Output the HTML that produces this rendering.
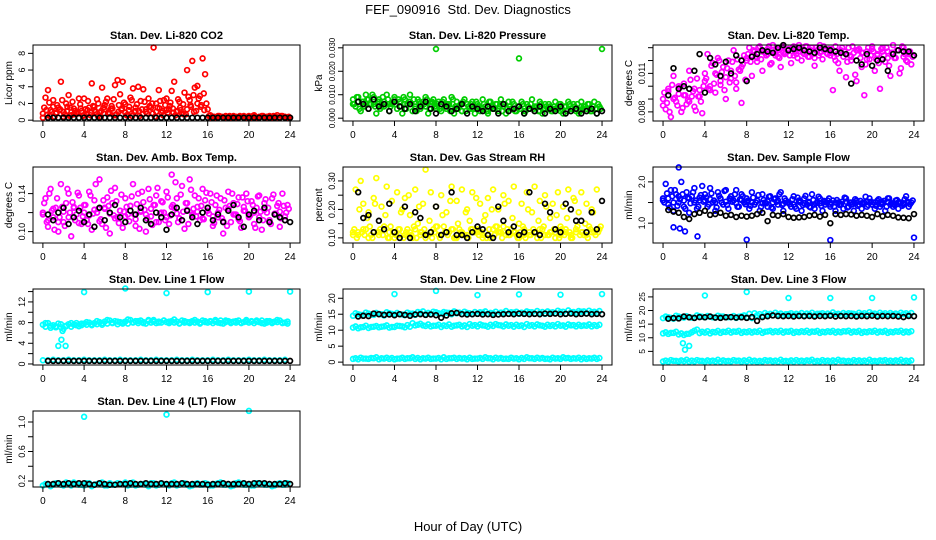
<!DOCTYPE html>
<html><head><meta charset="utf-8">
<style>
html,body{margin:0;padding:0;background:#fff;}
svg{display:block;font-family:"Liberation Sans",sans-serif;}
</style></head>
<body>
<svg id="chart" width="936" height="540" viewBox="0 0 936 540" xmlns="http://www.w3.org/2000/svg">
<text x="468" y="14" text-anchor="middle" font-size="13">FEF_090916&#160; Std. Dev. Diagnostics</text>
<text x="468" y="531" text-anchor="middle" font-size="13">Hour of Day (UTC)</text>
<g id="panels"></g>
</svg>
<script>
const xTicks = [0,4,8,12,16,20,24];

const co2Red = [0.3,2.7,3.6,1.2,2.4,0.8,1.5,4.6,1.0,2.0,3.0,0.6,1.4,0.9,2.6,1.1,
2.6,0.7,1.5,4.4,1.2,2.5,0.9,3.9,1.8,2.6,0.8,1.4,4.2,4.8,3.1,4.6,
1.9,0.6,2.7,3.8,1.1,4.0,2.3,3.7,1.0,2.6,1.5,8.7,2.0,3.6,0.9,2.4,
2.6,1.3,3.5,4.6,1.0,2.2,0.8,3.3,6.0,2.4,7.1,3.9,4.1,2.9,7.4,5.5,
1.3,0.6,0.4,0.3,0.5,0.4,0.3,0.5,0.4,0.3,0.5,0.4,0.3,0.4,0.5,0.3,
0.5,0.4,0.6,0.3,0.4,0.5,0.3,0.4,0.5,0.3,0.4,0.6,0.3,0.5,0.4,0.3];
const co2RedBase = [0.8,1.2,0.5,1.6,0.9,1.3,0.4,1.1,1.5,0.7,1.0,1.4,0.6,1.2,0.9,1.6,0.5,1.1,1.3,0.8,1.7,0.6,1.0,1.4,0.9,1.2,0.5,1.5,1.1,0.7,1.3,1.6,0.8,1.0,1.4,0.6,1.2,1.7,0.9,1.1,1.5,0.7,1.3,1.8,1.0,2.0,1.6,1.2];
const co2RedExtra = [1.5,0.6,2.1,1.0,0.4,1.8,1.2,2.4,0.7,1.6,0.5,2.2,1.1,0.8,1.9,0.5,
1.3,2.3,0.6,1.7,1.0,2.0,0.4,1.5,2.2,0.9,1.4,2.5,0.7,1.8,1.2,2.1,
0.6,1.6,2.4,1.0,1.9,0.5,1.3,2.2,0.8,1.7,2.0,0.4,1.5,2.3,1.1,1.8,
0.9,2.1,1.4,0.6,2.5,1.2,1.9,0.7,2.8,1.6,3.0,1.1,2.6,1.8,3.2,2.0,
0.5,0.3,0.4,0.3,0.5,0.4,0.3,0.4,0.5,0.3,0.4,0.3,0.5,0.4,0.3,0.4,
0.3,0.5,0.4,0.3,0.4,0.5,0.3,0.4,0.3,0.5,0.4,0.3,0.5,0.4,0.3,0.4];
const co2Black = [0.3,0.3,0.3,0.3,0.3,0.3,0.3,0.3,0.3,0.3,0.3,0.3,0.3,0.3,0.3,0.3,0.3,0.3,0.3,0.3,0.3,0.3,0.3,0.3,0.3,0.3,0.3,0.3,0.3,0.3,0.3,0.3,0.3,0.3,0.3,0.3,0.3,0.3,0.3,0.3,0.3,0.3,0.3,0.3,0.3,0.3,0.3,0.3];

const presGreen = [.008,.005,.009,.003,.007,.010,.004,.006,.009,.002,.008,.005,.007,.010,.003,.006,
.009,.004,.007,.002,.008,.006,.010,.003,.005,.008,.004,.007,.009,.002,.006,.008,
.005,.007,.003,.008,.004,.006,.009,.002,.007,.005,.003,.008,.006,.004,.007,.002,
.006,.003,.008,.005,.002,.007,.004,.006,.003,.008,.005,.002,.007,.004,.006,.003,
.005,.007,.002,.006,.004,.008,.003,.005,.007,.002,.006,.004,.005,.003,.007,.004,
.006,.002,.005,.007,.003,.006,.004,.002,.007,.005,.003,.006,.004,.007,.002,.005];
const presGreenBase = [.006,.007,.005,.008,.006,.007,.005,.006,.008,.005,.006,.007,.004,.006,.005,.007,.004,.005,.006,.004,.005,.003,.006,.004,.005,.004,.003,.005,.004,.006,.003,.004,.005,.003,.004,.005,.003,.004,.005,.004,.003,.005,.004,.003,.005,.004,.003,.004];
const presGreenExtra = [.006,.009,.004,.007,.005,.008,.006,.010,.005,.007,.004,.009,.006,.008,.005,.007,
.006,.008,.005,.009,.004,.007,.006,.008,.003,.007,.005,.006,.008,.004,.007,.005,
.006,.004,.007,.005,.006,.003,.008,.005,.004,.006,.007,.003,.005,.006,.004,.007,
.005,.004,.006,.003,.007,.005,.004,.006,.005,.003,.006,.004,.005,.007,.003,.005,
.004,.006,.003,.005,.006,.004,.005,.003,.006,.004,.005,.006,.003,.005,.004,.006,
.004,.005,.003,.006,.004,.005,.006,.003,.004,.005,.006,.003,.005,.004,.006,.004];
const presBlack = [.007,.006,.004,.008,.005,.006,.003,.007,.005,.004,.006,.003,.005,.007,.004,.002,.006,.005,.003,.004,.006,.002,.005,.004,.003,.005,.004,.002,.006,.003,.004,.005,.002,.004,.003,.005,.002,.004,.003,.005,.002,.003,.004,.002,.003,.004,.002,.003];
const presOutH = [8,16,24];
const presOutV = [.0295,.0255,.0295];

const tempMag = [.0090,.0082,.0098,.0076,.0108,.0088,.0094,.0080,.0102,.0086,.0112,.0092,.0084,.0106,.0097,.0079,
.0110,.0125,.0100,.0118,.0095,.0122,.0104,.0115,.0090,.0120,.0106,.0128,.0098,.0113,.0087,.0124,
.0122,.0130,.0108,.0127,.0119,.0131,.0112,.0126,.0129,.0117,.0132,.0124,.0128,.0115,.0131,.0126,
.0129,.0118,.0131,.0125,.0132,.0120,.0128,.0131,.0123,.0130,.0116,.0128,.0132,.0121,.0129,.0125,
.0126,.0097,.0131,.0118,.0128,.0123,.0107,.0130,.0120,.0126,.0104,.0129,.0115,.0093,.0127,.0121,
.0131,.0112,.0125,.0098,.0130,.0119,.0127,.0108,.0132,.0122,.0128,.0114,.0130,.0120,.0126,.0117];
const tempMagBase = [.0085,.0096,.0090,.0100,.0093,.0088,.0098,.0092,.0104,.0097,.0110,.0101,.0107,.0112,.0103,.0115,.0120,.0124,.0122,.0127,.0125,.0128,.0123,.0126,.0129,.0124,.0127,.0125,.0128,.0122,.0126,.0129,.0124,.0120,.0127,.0125,.0123,.0128,.0126,.0121,.0129,.0124,.0127,.0122,.0126,.0128,.0123,.0125];
const tempMagExtra = [.0095,.0087,.0080,.0101,.0091,.0085,.0099,.0083,.0093,.0089,.0105,.0096,.0081,.0092,.0088,.0100,
.0106,.0098,.0116,.0102,.0109,.0120,.0111,.0097,.0114,.0103,.0119,.0108,.0121,.0112,.0117,.0105,
.0125,.0119,.0128,.0123,.0130,.0121,.0127,.0124,.0131,.0118,.0126,.0129,.0122,.0130,.0125,.0128,
.0124,.0130,.0127,.0122,.0129,.0126,.0131,.0123,.0128,.0125,.0130,.0124,.0127,.0131,.0126,.0129,
.0129,.0123,.0125,.0112,.0130,.0127,.0119,.0124,.0131,.0109,.0128,.0122,.0126,.0117,.0130,.0124,
.0127,.0121,.0118,.0129,.0124,.0130,.0116,.0126,.0122,.0128,.0110,.0131,.0125,.0119,.0127,.0123];
const tempBlack = [.0093,.0114,.0098,.0100,.0098,.0112,.0125,.0095,.0122,.0117,.0108,.0119,.0110,.0124,.0120,.0104,.0123,.0125,.0128,.0127,.0126,.0130,.0132,.0128,.0129,.0130,.0128,.0127,.0126,.0130,.0129,.0128,.0127,.0126,.0125,.0102,.0120,.0117,.0125,.0116,.0120,.0121,.0112,.0125,.0128,.0127,.0127,.0124];

const ambMag = [.120,.135,.105,.145,.115,.125,.100,.150,.110,.130,.140,.095,.125,.118,.138,.108,
.128,.112,.142,.102,.133,.120,.155,.108,.124,.136,.098,.130,.146,.115,.122,.104,
.135,.118,.127,.150,.106,.140,.122,.131,.100,.145,.116,.128,.138,.110,.132,.120,
.142,.108,.160,.125,.135,.114,.148,.103,.130,.155,.118,.138,.126,.112,.145,.133,
.122,.140,.106,.128,.115,.135,.098,.125,.142,.110,.130,.118,.136,.104,.126,.140,
.115,.132,.108,.125,.138,.102,.130,.120,.110,.135,.118,.127,.105,.140,.112,.128];
const ambMagBase = [.118,.112,.124,.110,.121,.115,.126,.109,.120,.117,.123,.111,.125,.119,.114,.122,.116,.127,.113,.121,.118,.124,.110,.120,.115,.126,.119,.112,.123,.117,.121,.114,.125,.116,.120,.111,.124,.118,.113,.122,.117,.120,.115,.123,.112,.119,.121,.116];
const ambMagExtra = [.130,.110,.140,.122,.102,.135,.115,.126,.106,.145,.120,.131,.112,.141,.125,.116,
.128,.108,.138,.119,.150,.124,.113,.133,.104,.127,.143,.117,.132,.109,.139,.121,
.126,.111,.137,.118,.129,.103,.142,.123,.114,.134,.107,.128,.146,.119,.131,.112,
.136,.117,.128,.152,.110,.139,.121,.130,.108,.144,.124,.116,.135,.127,.113,.141,
.119,.131,.109,.138,.123,.114,.133,.106,.127,.140,.118,.129,.111,.136,.122,.132,
.117,.128,.104,.137,.121,.112,.134,.125,.108,.139,.119,.130,.114,.127,.120,.124];
const ambBlack = [.118,.112,.120,.125,.108,.115,.122,.110,.118,.105,.125,.112,.120,.128,.115,.110,.122,.118,.125,.112,.108,.120,.115,.102,.118,.125,.112,.122,.115,.108,.120,.125,.112,.118,.110,.122,.128,.115,.105,.118,.122,.112,.125,.110,.118,.115,.112,.110];

const rhYellow = [.12,.27,.11,.30,.22,.13,.19,.11,.24,.31,.12,.21,.14,.28,.10,.23,
.12,.26,.11,.20,.24,.13,.18,.10,.27,.15,.12,.22,.34,.11,.26,.13,
.21,.11,.25,.14,.19,.12,.28,.10,.23,.13,.27,.11,.20,.16,.26,.12,
.13,.22,.11,.18,.24,.10,.27,.14,.20,.12,.25,.11,.23,.13,.28,.11,
.15,.22,.11,.26,.12,.19,.28,.10,.23,.13,.25,.11,.17,.22,.12,.26,
.11,.21,.13,.27,.10,.24,.12,.19,.26,.11,.22,.14,.20,.12,.27,.13];
const rhYellowBase = [.11,.12,.13,.10,.12,.11,.14,.12,.10,.13,.11,.12,.13,.11,.10,.12,.14,.11,.12,.13,.10,.12,.11,.13,.12,.10,.11,.13,.12,.14,.11,.12,.10,.13,.11,.12,.13,.11,.12,.10,.14,.12,.11,.13,.12,.11,.12,.13];
const rhYellowExtra = [.13,.10,.20,.12,.11,.17,.14,.10,.22,.12,.13,.11,.18,.10,.14,.12,
.11,.13,.19,.10,.12,.25,.11,.14,.10,.21,.12,.13,.11,.16,.10,.12,
.14,.10,.18,.12,.11,.23,.13,.10,.15,.12,.11,.19,.10,.13,.12,.24,
.11,.12,.16,.10,.13,.20,.11,.14,.12,.10,.22,.13,.11,.17,.12,.10,
.12,.14,.10,.20,.11,.13,.12,.16,.10,.14,.21,.11,.12,.13,.18,.10,
.13,.11,.17,.12,.10,.23,.14,.11,.12,.15,.10,.13,.19,.11,.12,.14];
const rhBlack = [.26,.17,.18,.12,.16,.13,.22,.12,.10,.21,.10,.19,.17,.11,.12,.21,.11,.12,.26,.11,.11,.10,.12,.14,.13,.11,.10,.21,.16,.12,.14,.11,.12,.26,.12,.11,.22,.19,.13,.12,.22,.20,.16,.16,.12,.19,.13,.23];

const flowBlue = [1.60,1.95,1.45,1.80,1.30,1.70,1.50,2.00,1.40,1.75,1.25,1.65,1.85,1.35,1.55,1.90,
1.70,1.40,1.85,1.50,1.30,1.75,1.60,1.45,1.80,1.35,1.65,1.55,1.80,1.40,1.70,1.50,
1.60,1.35,1.75,1.45,1.55,1.30,1.70,1.50,1.40,1.65,1.35,1.60,1.45,1.75,1.30,1.55,
1.50,1.40,1.65,1.35,1.55,1.30,1.60,1.45,1.40,1.70,1.35,1.50,1.60,1.30,1.45,1.55,
1.40,1.55,1.30,1.50,1.45,1.35,1.60,1.40,1.50,1.30,1.55,1.45,1.35,1.50,1.40,1.60,
1.45,1.35,1.55,1.40,1.50,1.30,1.60,1.45,1.40,1.55,1.35,1.50,1.45,1.65,1.40,1.50];
const flowBlueBase = [1.55,1.60,1.50,1.65,1.55,1.60,1.50,1.62,1.55,1.58,1.50,1.60,1.52,1.58,1.48,1.56,1.52,1.50,1.55,1.48,1.53,1.50,1.55,1.47,1.50,1.45,1.52,1.48,1.50,1.45,1.48,1.52,1.45,1.50,1.47,1.52,1.45,1.50,1.48,1.53,1.45,1.50,1.47,1.52,1.46,1.50,1.48,1.50];
const flowBlueExtra = [1.50,1.72,1.38,1.65,1.80,1.42,1.58,1.70,1.35,1.62,1.48,1.75,1.55,1.40,1.68,1.52,
1.62,1.45,1.72,1.55,1.38,1.66,1.50,1.78,1.44,1.60,1.52,1.70,1.40,1.58,1.65,1.46,
1.55,1.42,1.62,1.50,1.68,1.40,1.56,1.48,1.64,1.38,1.58,1.52,1.70,1.44,1.60,1.50,
1.46,1.58,1.40,1.62,1.50,1.44,1.66,1.52,1.38,1.56,1.48,1.64,1.42,1.54,1.50,1.60,
1.48,1.40,1.56,1.44,1.52,1.62,1.38,1.50,1.46,1.58,1.42,1.54,1.48,1.64,1.44,1.52,
1.50,1.42,1.58,1.46,1.54,1.40,1.60,1.48,1.44,1.56,1.50,1.42,1.58,1.52,1.46,1.55];
const flowBlack = [1.32,1.28,1.25,1.15,1.10,1.22,1.25,1.30,1.20,1.22,1.25,1.18,1.20,1.15,1.18,1.16,1.18,1.22,1.25,1.05,1.20,1.18,1.22,1.15,1.13,1.14,1.15,1.18,1.20,1.16,1.20,1.00,1.22,1.20,1.22,1.21,1.18,1.20,1.18,1.15,1.22,1.17,1.20,1.18,1.14,1.13,1.12,1.22];
const flowOutH = [1.0,1.6,2.1,1.5,3.3,8,16,24];
const flowOutV = [0.9,0.87,0.8,2.35,0.68,0.6,0.59,0.65];

const l1Band = [7.6,7.2,7.9,7.0,7.5,7.3,7.8,7.1,6.8,7.4,7.7,7.2,7.6,7.9,7.3,7.5,
7.8,7.6,8.0,7.5,7.9,7.7,8.1,7.6,8.2,7.8,8.4,7.9,8.3,7.7,8.1,8.0,
8.2,7.8,8.5,8.0,8.3,7.9,8.4,8.1,7.8,8.3,8.0,8.5,7.9,8.2,8.0,8.4,
8.1,7.9,8.3,8.0,8.2,7.8,8.4,8.0,8.1,7.9,8.3,8.0,8.2,7.8,8.4,8.1,
8.0,8.3,7.9,8.2,8.0,8.4,7.8,8.1,8.3,7.9,8.2,8.0,8.4,7.9,8.1,8.2,
8.0,8.3,7.9,8.2,8.1,8.4,7.8,8.0,8.3,7.9,8.2,8.1,8.4,7.9,8.0,7.8];
const l1Band2 = [7.9,7.4,7.1,7.7,7.3,7.9,7.5,7.8,8.1,7.7,8.3,7.9,8.5,8.0,8.2,7.8,8.6,8.1,8.3,7.9,8.5,8.2,8.0,8.4,8.2,8.6,7.9,8.3,8.1,8.5,8.0,8.3,8.2,8.5,7.9,8.4,8.1,8.3,8.0,8.5,8.2,8.4,7.9,8.3,8.1,8.5,8.0,8.2];
const l1Low = [0.7,0.7,0.8,0.7,0.7,0.8,0.7,0.7,0.8,0.7,0.7,0.7,0.8,0.7,0.7,0.8,0.7,0.7,0.7,0.8,0.7,0.7,0.8,0.7,0.7,0.7,0.8,0.7,0.7,0.8,0.7,0.7,0.7,0.8,0.7,0.7,0.8,0.7,0.7,0.7,0.8,0.7,0.7,0.8,0.7,0.7,0.7,0.8];
const l1Black = [0.6,0.6,0.6,0.6,0.6,0.6,0.6,0.6,0.6,0.6,0.6,0.6,0.6,0.6,0.6,0.6,0.6,0.6,0.6,0.6,0.6,0.6,0.6,0.6,0.6,0.6,0.6,0.6,0.6,0.6,0.6,0.6,0.6,0.6,0.6,0.6,0.6,0.6,0.6,0.6,0.6,0.6,0.6,0.6,0.6,0.6,0.6,0.6];
const l1OutH = [4,8,12,16,20,24,1.5,1.8,2.2,1.9];
const l1OutV = [13.9,14.6,13.7,13.9,14.0,14.0,3.5,4.7,3.5,6.4];

const l2Upper = [14.5,15.0,14.7,15.2,14.8,15.1,14.6,15.3,14.9,15.0,14.7,15.2,14.8,15.4,15.0,15.1,15.6,15.2,15.5,15.0,15.3,15.1,15.4,15.0,15.2,15.5,15.1,15.3,15.0,15.4,15.2,15.5,15.1,15.3,15.6,15.2,15.4,15.1,15.5,15.3,15.7,15.2,15.6,15.4,15.8,15.3,15.6,15.4];
const l2Upper2 = [15.3,14.8,15.5,14.9,15.4,15.0,15.6,15.1,15.4,14.9,15.5,15.2,15.7,15.9,15.4,15.8,15.3,15.7,15.4,15.9,15.5,15.8,15.3,15.7,15.6,15.9,15.4,15.8,15.5,16.0,15.6,15.8,15.5,15.9,15.6,16.0,15.7,15.9,15.6,16.1,15.8,16.2,15.7,16.0,15.9,16.1,15.8,16.0];
const l2Mid = [10.8,10.6,11.0,10.7,11.1,10.9,11.2,10.8,11.0,11.3,10.9,11.1,11.5,12.0,11.3,11.2,11.4,11.0,11.3,11.1,11.5,11.2,11.0,11.4,11.2,11.5,11.1,11.3,11.6,11.2,11.4,11.1,11.3,11.0,11.4,11.2,11.5,11.1,11.3,11.2,11.4,11.1,11.5,11.2,11.3,11.4,11.2,11.3];
const l2Mid2 = [11.2,10.9,11.4,11.0,11.3,11.1,11.5,11.0,11.4,11.2,11.6,12.2,11.7,11.5,11.8,11.4,11.7,11.5,11.8,11.4,11.7,11.5,11.9,11.6,11.8,11.4,11.7,11.9,11.5,11.8,11.6,11.7,11.5,11.9,11.6,11.8,11.4,11.7,11.6,11.9,11.5,11.8,11.6,11.7,11.5,11.8,11.6,11.7];
const l2Low = [1.0,0.9,1.1,1.0,1.2,0.9,1.1,1.0,0.9,1.1,1.0,1.2,1.0,0.9,1.1,1.0,1.1,0.9,1.0,1.2,1.0,1.1,0.9,1.0,1.1,1.0,1.2,0.9,1.1,1.0,1.0,1.1,0.9,1.0,1.2,1.0,1.1,1.0,0.9,1.1,1.0,1.2,1.0,1.1,0.9,1.0,1.1,1.0];
const l2Low2 = [1.2,1.4,1.1,1.3,1.5,1.2,1.4,1.3,1.1,1.4,1.2,1.5,1.3,1.2,1.4,1.1,1.3,1.5,1.2,1.4,1.3,1.2,1.4,1.1,1.3,1.5,1.2,1.4,1.3,1.1,1.4,1.2,1.3,1.5,1.2,1.4,1.3,1.1,1.4,1.2,1.5,1.3,1.2,1.4,1.3,1.2,1.4,1.3];
const l2Black = [14.3,14.5,14.4,15.2,15.0,14.8,14.9,14.7,15.0,14.8,14.5,14.9,15.0,14.8,14.9,14.7,13.9,14.6,15.3,15.4,15.0,14.9,15.0,15.1,14.9,15.0,14.8,14.9,15.0,15.1,15.0,15.2,15.1,15.0,15.1,15.0,15.2,15.1,15.2,15.0,15.1,15.2,15.0,15.1,15.2,15.0,15.1,15.0];
const l2OutH = [4,8,12,16,20,24];
const l2OutV = [21.3,22.3,21.0,21.2,21.1,21.3];

const l3Upper = [17.2,17.5,17.0,17.8,17.4,17.6,17.3,17.9,17.5,17.7,17.4,17.8,17.5,17.6,17.3,17.9,17.6,17.2,18.3,18.0,18.5,18.2,18.6,18.3,18.7,18.4,18.5,18.2,18.6,18.3,18.8,18.4,18.5,18.7,18.3,18.6,18.9,18.4,18.7,18.5,18.8,18.4,18.7,18.5,18.6,18.4,18.7,18.5];
const l3Upper2 = [17.8,17.3,18.1,17.6,17.9,17.4,18.2,17.7,18.0,17.5,18.1,17.8,17.6,18.0,17.7,18.2,18.8,19.0,18.7,19.1,18.8,19.2,18.9,18.7,19.0,18.8,19.1,18.9,19.2,18.8,19.0,18.9,19.3,18.8,19.1,19.0,18.8,19.2,19.0,19.4,18.9,19.2,19.0,19.1,18.9,19.2,19.0,19.1];
const l3Mid = [11.6,11.4,11.8,11.2,11.0,11.5,12.6,11.7,11.9,11.6,12.0,11.8,12.1,11.9,12.2,11.8,12.0,11.9,12.1,11.8,12.3,12.0,12.1,11.9,12.2,11.8,12.0,12.1,11.9,12.2,11.8,12.0,12.1,11.9,12.0,12.3,11.9,12.1,11.8,12.0,12.2,11.9,12.1,11.8,12.0,12.2,11.9,12.0];
const l3Mid2 = [12.0,11.8,12.2,11.6,11.4,12.0,13.0,12.2,12.4,12.1,12.5,12.2,12.6,12.3,12.5,12.2,12.4,12.3,12.6,12.2,12.5,12.4,12.6,12.3,12.5,12.2,12.4,12.6,12.3,12.5,12.2,12.4,12.5,12.3,12.4,12.6,12.3,12.5,12.2,12.4,12.6,12.3,12.5,12.2,12.4,12.6,12.3,12.4];
const l3Low = [1.3,1.2,1.5,1.3,1.4,1.2,1.3,1.5,1.2,1.4,1.3,1.2,1.4,1.3,1.5,1.2,1.3,1.4,1.2,1.3,1.5,1.3,1.2,1.4,1.3,1.2,1.4,1.3,1.5,1.2,1.3,1.4,1.2,1.3,1.5,1.3,1.2,1.4,1.3,1.2,1.4,1.3,1.5,1.2,1.3,1.4,1.2,1.3];
const l3Low2 = [1.6,1.8,1.5,1.7,1.9,1.6,1.8,1.5,1.7,1.6,1.9,1.7,1.5,1.8,1.6,1.7,1.9,1.6,1.5,1.8,1.7,1.6,1.9,1.5,1.7,1.8,1.6,1.7,1.9,1.5,1.8,1.6,1.7,1.9,1.6,1.5,1.8,1.7,1.6,1.9,1.5,1.7,1.8,1.6,1.7,1.9,1.6,1.7];
const l3Black = [17.0,17.2,17.1,17.8,17.5,17.3,17.6,17.5,17.8,17.4,17.3,17.5,17.6,17.4,17.5,17.3,17.6,16.2,17.6,17.9,18.2,18.0,17.9,18.0,17.8,18.0,17.9,18.0,17.8,18.0,17.9,18.1,17.8,18.0,17.9,18.0,17.8,18.0,17.9,18.1,17.8,18.0,17.9,18.0,17.8,17.6,18.0,17.9];
const l3OutH = [4,8,12,16,20,24,1.9,2.1,2.5];
const l3OutV = [25.5,26.8,24.6,24.6,24.6,24.8,8.0,5.6,7.0];

const l4Band = [0.14,0.16,0.15,0.17,0.14,0.16,0.18,0.15,0.14,0.17,0.15,0.16,0.14,0.17,0.15,0.16,0.18,0.15,0.14,0.16,0.15,0.17,0.14,0.16,0.15,0.17,0.14,0.16,0.15,0.14,0.17,0.15,0.16,0.14,0.17,0.15,0.16,0.14,0.18,0.15,0.16,0.14,0.17,0.15,0.16,0.14,0.17,0.15];
const l4Band2 = [0.16,0.13,0.17,0.15,0.18,0.14,0.16,0.15,0.17,0.13,0.16,0.18,0.14,0.15,0.17,0.16,0.14,0.18,0.15,0.16,0.13,0.17,0.15,0.16,0.14,0.18,0.15,0.17,0.13,0.16,0.15,0.17,0.14,0.16,0.18,0.15,0.13,0.17,0.16,0.15,0.14,0.17,0.16,0.15,0.13,0.16,0.15,0.17];
const l4Black = [0.16,0.16,0.17,0.16,0.17,0.16,0.17,0.17,0.16,0.15,0.17,0.16,0.15,0.15,0.16,0.16,0.17,0.16,0.16,0.17,0.16,0.16,0.17,0.16,0.16,0.16,0.17,0.16,0.16,0.16,0.16,0.15,0.16,0.16,0.17,0.16,0.16,0.16,0.17,0.16,0.17,0.17,0.17,0.16,0.16,0.16,0.17,0.16];
const l4OutH = [4,12,20];
const l4OutV = [1.07,1.10,1.15];

// sampling helper for regularly logged hours
function hrs(start, step, n){ const a=[]; for(let i=0;i<n;i++) a.push(start+i*step); return a; }

const panels = [
 {name:'co2', title:'Stan. Dev. Li-820 CO2', ylab:'Licor ppm', col:0,row:0, ylim:[-0.1,9.0], ticks:[0,2,4,6,8], labels:['0','2','4','6','8'],
  series:[[co2Red,0,0.25,'#ff0000'],[co2RedBase,0,1/3,'#ff0000'],[co2RedExtra,0.125,0.25,'#ff0000'],[co2Black,0.5,0.5,'#000']]},
 {name:'pressure', title:'Stan. Dev. Li-820 Pressure', ylab:'kPa', col:1,row:0, ylim:[-0.0012,0.0312], ticks:[0,0.01,0.02,0.03], labels:['0.000','0.010','0.020','0.030'], tickFont:8, tickSqueeze:20,
  series:[[presGreen,0,0.25,'#00cd00'],[presGreenBase,0,0.5,'#00cd00'],[presGreenExtra,0.125,0.25,'#00cd00'],[presBlack,0.5,0.5,'#000']], out:[presOutH,presOutV,'#00cd00']},
 {name:'li820-temp', title:'Stan. Dev. Li-820 Temp.', ylab:'degrees C', col:2,row:0, ylim:[0.00729,0.01321], ticks:[0.008,0.009,0.010,0.011,0.012,0.013], labels:['0.008','','','0.011','',''],
  series:[[tempMag,0,0.25,'#ff00ff'],[tempMagBase,0,0.5,'#ff00ff'],[tempMagExtra,0.125,0.25,'#ff00ff'],[tempBlack,0.5,0.5,'#000']]},
 {name:'amb-box-temp', title:'Stan. Dev. Amb. Box Temp.', ylab:'degrees C', col:0,row:1, ylim:[0.088,0.168], ticks:[0.10,0.12,0.14], labels:['0.10','','0.14'],
  series:[[ambMag,0,0.25,'#ff00ff'],[ambMagBase,0,0.5,'#ff00ff'],[ambMagExtra,0.125,0.25,'#ff00ff'],[ambBlack,0.5,0.5,'#000']]},
 {name:'gas-stream-rh', title:'Stan. Dev. Gas Stream RH', ylab:'percent', col:1,row:1, ylim:[0.082,0.349], ticks:[0.10,0.15,0.20,0.25,0.30], labels:['0.10','','0.20','','0.30'],
  series:[[rhYellow,0,0.25,'#ffff00'],[rhYellowBase,0,0.5,'#ffff00'],[rhYellowExtra,0.125,0.25,'#ffff00'],[rhBlack,0.5,0.5,'#000']]},
 {name:'sample-flow', title:'Stan. Dev. Sample Flow', ylab:'ml/min', col:2,row:1, ylim:[0.52,2.36], ticks:[1.0,1.5,2.0], labels:['1.0','','2.0'],
  series:[[flowBlue,0,0.25,'#0000ff'],[flowBlueBase,0,0.5,'#0000ff'],[flowBlueExtra,0.125,0.25,'#0000ff'],[flowBlack,0.5,0.5,'#000']], out:[flowOutH,flowOutV,'#0000ff']},
 {name:'line1-flow', title:'Stan. Dev. Line 1 Flow', ylab:'ml/min', col:0,row:2, ylim:[-0.2,14.5], ticks:[0,2,4,6,8,10,12,14], labels:['0','','4','','8','','12',''],
  series:[[l1Band,0,0.25,'#00ffff'],[l1Band2,0.25,0.5,'#00ffff'],[l1Low,0,0.5,'#00ffff'],[l1Black,0.5,0.5,'#000']], out:[l1OutH,l1OutV,'#00ffff']},
 {name:'line2-flow', title:'Stan. Dev. Line 2 Flow', ylab:'ml/min', col:1,row:2, ylim:[-0.9,22.9], ticks:[0,5,10,15,20], labels:['0','5','10','15','20'],
  series:[[l2Upper,0,0.5,'#00ffff'],[l2Upper2,0.25,0.5,'#00ffff'],[l2Mid,0,0.5,'#00ffff'],[l2Mid2,0.25,0.5,'#00ffff'],[l2Low,0,0.5,'#00ffff'],[l2Low2,0.25,0.5,'#00ffff'],[l2Black,0.5,0.5,'#000']], out:[l2OutH,l2OutV,'#00ffff']},
 {name:'line3-flow', title:'Stan. Dev. Line 3 Flow', ylab:'ml/min', col:2,row:2, ylim:[0,27.9], ticks:[5,10,15,20,25], labels:['5','10','15','20','25'], tickFont:8.5,
  series:[[l3Upper,0,0.5,'#00ffff'],[l3Upper2,0.25,0.5,'#00ffff'],[l3Mid,0,0.5,'#00ffff'],[l3Mid2,0.25,0.5,'#00ffff'],[l3Low,0,0.5,'#00ffff'],[l3Low2,0.25,0.5,'#00ffff'],[l3Black,0.5,0.5,'#000']], out:[l3OutH,l3OutV,'#00ffff']},
 {name:'line4-flow', title:'Stan. Dev. Line 4 (LT) Flow', ylab:'ml/min', col:0,row:3, ylim:[0.119,1.149], ticks:[0.2,0.4,0.6,0.8,1.0], labels:['0.2','','0.6','','1.0'],
  series:[[l4Band,0,0.5,'#00ffff'],[l4Band2,0.25,0.5,'#00ffff'],[l4Black,0.5,0.5,'#000']], out:[l4OutH,l4OutV,'#00ffff']}
];

const cols = [[33,300],[343,612],[653,924]];
const rowTop = [45,167,289,411];
const boxH = 76;
const NS = 'http://www.w3.org/2000/svg';
function mk(tag, attrs, parent){ const e=document.createElementNS(NS,tag); for(const k in attrs) e.setAttribute(k,attrs[k]); parent.appendChild(e); return e; }
const root = document.getElementById('panels');

panels.forEach(p=>{
  const L=cols[p.col][0], R=cols[p.col][1], T=rowTop[p.row], B=T+boxH;
  const w=R-L;
  const x0=L+w*0.04/1.08, x1=R-w*0.04/1.08;
  const xs = h => x0 + (h/24)*(x1-x0);
  const ys = v => B - (v-p.ylim[0])/(p.ylim[1]-p.ylim[0])*boxH;
  const g = mk('g',{},root);
  
  
  const t = mk('text',{x:(L+R)/2,y:T-6,'text-anchor':'middle','font-size':11,'font-weight':'bold'},g);
  t.textContent=p.title;
  
  
  const yl = mk('text',{x:0,y:0,'text-anchor':'middle','font-size':10,transform:`translate(${L-21},${(T+B)/2}) rotate(-90)`},g);
  yl.textContent=p.ylab;
  
  
  const pg = mk('g',{fill:'none','stroke-width':1.7},g);
  
  
  p.series.forEach(s=>{
    const vals=s[0], hh=hrs(s[1],s[2],vals.length);
    vals.forEach((v,i)=>{
      const c = mk('circle',{cx:xs(hh[i]).toFixed(1),cy:ys(v).toFixed(1),r:2.4,stroke:s[3]},pg);
      
      
    });
  });
  if(p.out){
    p.out[0].forEach((h,i)=>{
      const c = mk('circle',{cx:xs(h).toFixed(1),cy:ys(p.out[1][i]).toFixed(1),r:2.4,stroke:p.out[2]},pg);
      
      
    });
  }
  const box = mk('rect',{x:L,y:T,width:w,height:boxH,fill:'none',stroke:'#000','stroke-width':1},g);
  
  
  xTicks.forEach(h=>{
    const x=xs(h);
    mk('line',{x1:x,y1:B,x2:x,y2:B+5,stroke:'#000'},g);
    const tl=mk('text',{x:x,y:B+17,'text-anchor':'middle','font-size':10},g);
    tl.textContent=String(h);
    
    
  });
  p.ticks.forEach((v,i)=>{
    const y=ys(v);
    mk('line',{x1:L-5,y1:y,x2:L,y2:y,stroke:'#000'},g);
    if(p.labels[i]){
      const attrs={x:0,y:0,'text-anchor':'middle','font-size':p.tickFont||9,transform:`translate(${L-8},${y}) rotate(-90)`};
      if(p.tickSqueeze){ attrs.textLength=p.tickSqueeze; attrs.lengthAdjust='spacingAndGlyphs'; }
      const tl=mk('text',attrs,g);
      tl.textContent=p.labels[i];
      
      
    }
  });
});
</script>
</body></html>
